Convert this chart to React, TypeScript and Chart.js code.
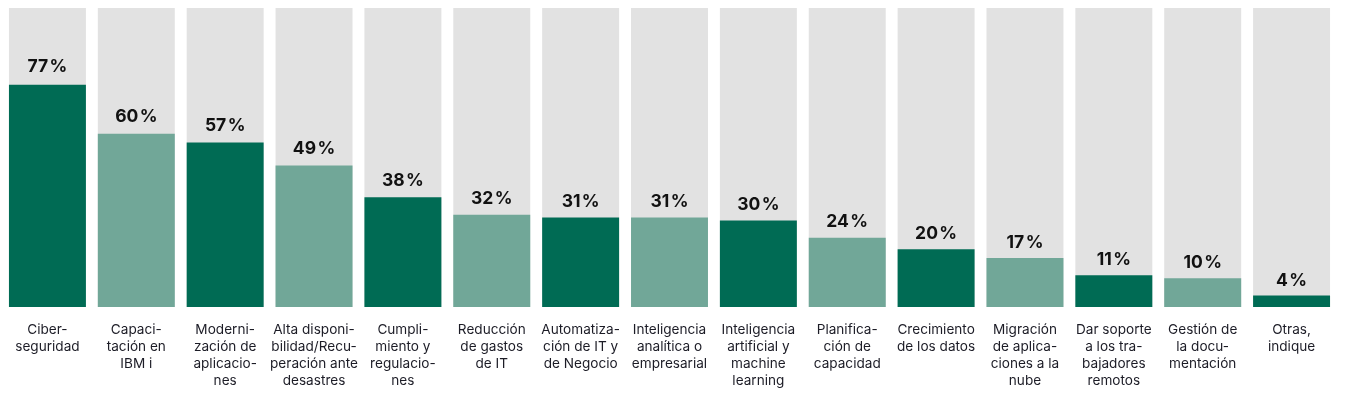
import React, { useEffect, useRef } from "react";
import { Chart, registerables } from "chart.js";

Chart.register(...registerables);

const categories: string[][] = [
  ["Ciber-", "seguridad"],
  ["Capaci-", "tación en", "IBM i"],
  ["Moderni-", "zación de", "aplicacio-", "nes"],
  ["Alta disponi-", "bilidad/Recu-", "peración ante", "desastres"],
  ["Cumpli-", "miento y", "regulacio-", "nes"],
  ["Reducción", "de gastos", "de IT"],
  ["Automatiza-", "ción de IT y", "de Negocio"],
  ["Inteligencia", "analítica o", "empresarial"],
  ["Inteligencia", "artificial y", "machine", "learning"],
  ["Planifica-", "ción de", "capacidad"],
  ["Crecimiento", "de los datos"],
  ["Migración", "de aplica-", "ciones a la", "nube"],
  ["Dar soporte", "a los tra-", "bajadores", "remotos"],
  ["Gestión de", "la docu-", "mentación"],
  ["Otras,", "indique"],
];

const values: number[] = [77, 60, 57, 49, 38, 32, 31, 31, 30, 24, 20, 17, 11, 10, 4];

const TRACK_MAX = 103.6;
const trackValues: number[] = categories.map(() => TRACK_MAX);

const DARK = "#006b54";
const LIGHT = "#71a798";
const TRACK = "#e2e2e2";

const valueLabelPlugin = {
  id: "valueLabels",
  afterDatasetsDraw(chart: any) {
    const meta = chart.getDatasetMeta(0);
    const ctx = chart.ctx;
    ctx.save();
    ctx.font = "bold 17.5px Inter, 'Noto Sans', sans-serif";
    ctx.fillStyle = "#111111";
    ctx.textAlign = "center";
    ctx.textBaseline = "alphabetic";
    meta.data.forEach((el: any, i: number) => {
      const v = values[i];
      const off = 9.3 + 0.044 * v;
      ctx.fillText(`${v}\u200A%`, el.x, el.y - off);
    });
    ctx.restore();
  },
};

export default function App() {
  const ref = useRef<HTMLCanvasElement | null>(null);
  useEffect(() => {
    if (!ref.current) return;
    const chart = new Chart(ref.current, {
      type: "bar",
      data: {
        labels: categories,
        datasets: [
          {
            data: values,
            backgroundColor: values.map((_, i) => (i % 2 === 0 ? DARK : LIGHT)),
            borderWidth: 0,
            order: 1,
            grouped: false,
            barPercentage: 0.866,
            categoryPercentage: 1,
          } as any,
          {
            data: trackValues,
            backgroundColor: TRACK,
            borderWidth: 0,
            order: 2,
            grouped: false,
            barPercentage: 0.866,
            categoryPercentage: 1,
          } as any,
        ],
      },
      options: {
        animation: false,
        responsive: true,
        maintainAspectRatio: false,
        layout: { padding: 0 },
        plugins: {
          legend: { display: false },
          tooltip: { enabled: false },
          title: { display: false },
        },
        scales: {
          x: {
            grid: { display: false, drawTicks: false },
            border: { display: false },
            afterFit: (s: any) => {
              s.height = 90;
              s.paddingLeft = 0;
              s.paddingRight = 0;
            },
            ticks: {
              autoSkip: false,
              maxRotation: 0,
              minRotation: 0,
              padding: 14,
              color: "#1c1c26",
              font: { family: "Inter, 'Noto Sans', sans-serif", size: 13.6, lineHeight: 1.25 },
            },
          },
          y: {
            display: false,
            min: 0,
            max: TRACK_MAX,
          },
        },
      },
      plugins: [valueLabelPlugin],
    });
    return () => chart.destroy();
  }, []);
  return (
    <div style={{ position: "relative", width: 1333, height: 389, marginLeft: -5 }}>
      <canvas ref={ref} />
    </div>
  );
}
